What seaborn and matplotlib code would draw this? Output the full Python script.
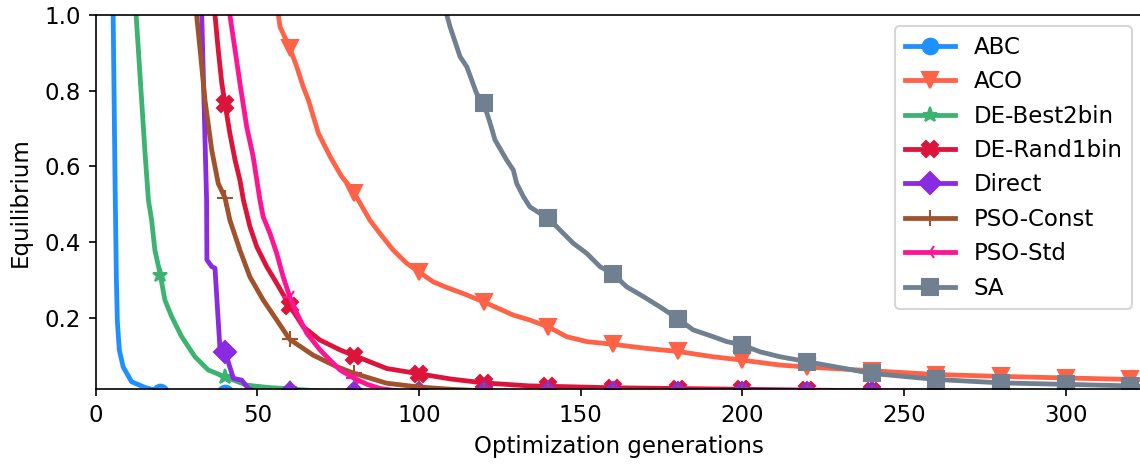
import numpy as np
import matplotlib
matplotlib.use("Agg")
import matplotlib.pyplot as plt
from matplotlib.lines import Line2D
import seaborn as sns

# Convergence of the equilibrium measure over optimization generations
abc_gen = [4.9, 5.4, 6.0, 6.4, 6.7, 7.3, 8.5, 11.1, 15.2, 20, 25, 40, 60, 80, 100, 120, 140,
           160, 180, 200, 220, 240, 260, 280, 300, 320]
abc_val = [1.30, 1.0, 0.55, 0.30, 0.19, 0.115, 0.07, 0.031, 0.016, 0.005, 0.002, 0.0, 0.0, 0.0,
           0.0, 0.0, 0.0, 0.0, 0.0, 0.0, 0.0, 0.0, 0.0, 0.0, 0.0, 0.0]

aco_gen = [56.2, 56.5, 57.0, 60, 62.2, 64.2, 65.8, 68.9, 72.5, 76.1, 78.1, 80, 84.8, 87.9, 92,
           96.2, 100, 104.4, 108.6, 113.7, 120, 129.2, 134.3, 140, 145.7, 151.9, 160, 170.4, 180,
           191, 200, 211.7, 220, 240, 260, 280, 300, 320, 325]
aco_val = [1.02, 1.0, 0.969, 0.914, 0.863, 0.81, 0.775, 0.687, 0.626, 0.573, 0.552, 0.529, 0.458,
           0.423, 0.379, 0.344, 0.321, 0.295, 0.28, 0.264, 0.242, 0.207, 0.194, 0.176, 0.15, 0.137,
           0.13, 0.119, 0.111, 0.097, 0.088, 0.075, 0.07, 0.06, 0.05, 0.045, 0.041, 0.037, 0.036]

best2_gen = [12.0, 12.5, 13.2, 14.2, 15.2, 16.3, 17.3, 18.3, 20, 21.4, 23.5, 26.6, 30.7, 34.8,
             40, 46.7, 53, 60, 70, 80, 100, 120, 140, 160, 180, 200, 220, 240, 260, 280, 300, 320]
best2_val = [1.10, 1.0, 0.908, 0.775, 0.643, 0.511, 0.458, 0.379, 0.313, 0.247, 0.203, 0.15,
             0.097, 0.062, 0.044, 0.022, 0.016, 0.012, 0.006, 0.003, 0.001, 0.0, 0.0, 0.0, 0.0,
             0.0, 0.0, 0.0, 0.0, 0.0, 0.0, 0.0]

rand1_gen = [36.6, 36.9, 37.9, 39.0, 40, 41.5, 43.1, 44.6, 45.7, 47.7, 49.8, 52.9, 56, 60, 64.2,
             69.4, 75.6, 80, 90, 100, 110, 120, 134, 140, 160, 180, 200, 220, 240, 260, 280, 300,
             320]
rand1_val = [1.03, 1.0, 0.908, 0.82, 0.765, 0.687, 0.617, 0.564, 0.511, 0.441, 0.388, 0.335,
             0.291, 0.232, 0.176, 0.141, 0.115, 0.1, 0.066, 0.052, 0.038, 0.028, 0.02, 0.019,
             0.015, 0.013, 0.011, 0.009, 0.007, 0.006, 0.005, 0.004, 0.003]

direct_gen = [32.5, 32.8, 34.3, 34.4, 35.9, 36.9, 38.4, 40, 42.6, 45.2, 47.2, 50, 60, 80, 100,
              120, 140, 160, 180, 200, 220, 240, 260, 280, 300, 320]
direct_val = [1.10, 1.0, 0.511, 0.353, 0.335, 0.331, 0.123, 0.11, 0.04, 0.035, 0.013, 0.004,
              0.001, 0.0, 0.0, 0.0, 0.0, 0.0, 0.0, 0.0, 0.0, 0.0, 0.0, 0.0, 0.0, 0.0]

const_gen = [31.0, 31.2, 32.3, 33.8, 35.9, 37.9, 40, 41.5, 44.6, 47.7, 51.8, 56, 60, 67.3, 74.5,
             80, 90, 100, 110, 120, 140, 160, 180, 200, 220, 240, 260, 280, 300, 320]
const_val = [1.05, 1.0, 0.908, 0.775, 0.643, 0.555, 0.517, 0.458, 0.379, 0.308, 0.247, 0.194,
             0.143, 0.101, 0.071, 0.053, 0.027, 0.017, 0.011, 0.007, 0.004, 0.002, 0.002, 0.002,
             0.002, 0.002, 0.002, 0.002, 0.002, 0.002]

std_gen = [41.3, 41.5, 43.1, 44.6, 46.7, 48.7, 50.8, 51.8, 53.9, 56, 58, 60, 62.2, 65.3, 69.4,
           72.5, 75.6, 80, 84, 88, 95, 100, 120, 140, 160, 180, 200, 220, 240, 260, 280, 300, 320]
std_val = [1.02, 1.0, 0.908, 0.82, 0.705, 0.626, 0.511, 0.467, 0.423, 0.37, 0.308, 0.256, 0.212,
           0.159, 0.115, 0.088, 0.062, 0.04, 0.024, 0.013, 0.005, 0.002, 0.0, 0.0, 0.0, 0.0, 0.0,
           0.0, 0.0, 0.0, 0.0, 0.0, 0.0]

sa_gen = [108.3, 108.6, 109.6, 112.7, 114.8, 117.8, 120, 122.0, 123.5, 127.1, 129.2, 130.2, 132.3,
          134.3, 137.4, 140, 143.6, 147.7, 151.9, 156, 160, 164.2, 169.4, 174.5, 180, 184.8, 191,
          195.2, 200, 205.5, 211.7, 220, 240, 260, 280, 300, 320, 325]
sa_val = [1.01, 1.0, 0.969, 0.89, 0.863, 0.793, 0.767, 0.714, 0.67, 0.617, 0.59, 0.555, 0.52,
          0.493, 0.476, 0.463, 0.432, 0.397, 0.37, 0.335, 0.316, 0.282, 0.256, 0.229, 0.198,
          0.168, 0.15, 0.137, 0.128, 0.11, 0.097, 0.084, 0.053, 0.037, 0.028, 0.024, 0.02, 0.019]

names = ["ABC", "ACO", "DE-Best2bin", "DE-Rand1bin", "Direct", "PSO-Const", "PSO-Std", "SA"]
series = [(abc_gen, abc_val), (aco_gen, aco_val), (best2_gen, best2_val),
          (rand1_gen, rand1_val), (direct_gen, direct_val), (const_gen, const_val),
          (std_gen, std_val), (sa_gen, sa_val)]
colors = ["#1E90FF", "#FF6347", "#3CB371", "#DC143C", "#8A2BE2", "#A0522D", "#FF1493", "#708090"]
markers = ["o", "v", "*", "X", "D", "+", "3", "s"]

plt.rcParams["font.family"] = ["DejaVu Sans"]
plt.rcParams["font.size"] = 11

fig = plt.figure(figsize=(7.6, 3.1), dpi=150)
ax = fig.add_axes([95.7 / 1140, 1 - 389.3 / 465, (1143 - 95.7) / 1140, (389.3 - 15) / 465])

LW = 2.3
MS = 7.5
MEW = 1.0
for (gen, val), name, col, mk in zip(series, names, colors, markers):
    every = [i for i, g in enumerate(gen) if np.isclose(g % 20, 0)]
    sns.lineplot(x=gen, y=val, ax=ax, color=col, marker=mk, markevery=every,
                 linewidth=LW, markersize=MS, markeredgecolor=col, markeredgewidth=MEW,
                 estimator=None, sort=False)

ax.set_xlim(0, (1143 - 95.7) / 3.233)
ax.set_ylim(0.011, 1.0)
ax.set_xticks([0, 50, 100, 150, 200, 250, 300])
ax.set_yticks([0.2, 0.4, 0.6, 0.8, 1.0])
ax.set_xlabel("Optimization generations")
ax.set_ylabel("Equilibrium", labelpad=6)

handles = [Line2D([], [], color=c, marker=m, linewidth=LW, markersize=MS,
                  markeredgecolor=c, markeredgewidth=MEW)
           for c, m in zip(colors, markers)]
ax.legend(handles, names, loc="upper right", handlelength=2.2)

fig.savefig("out.png", dpi=150)
